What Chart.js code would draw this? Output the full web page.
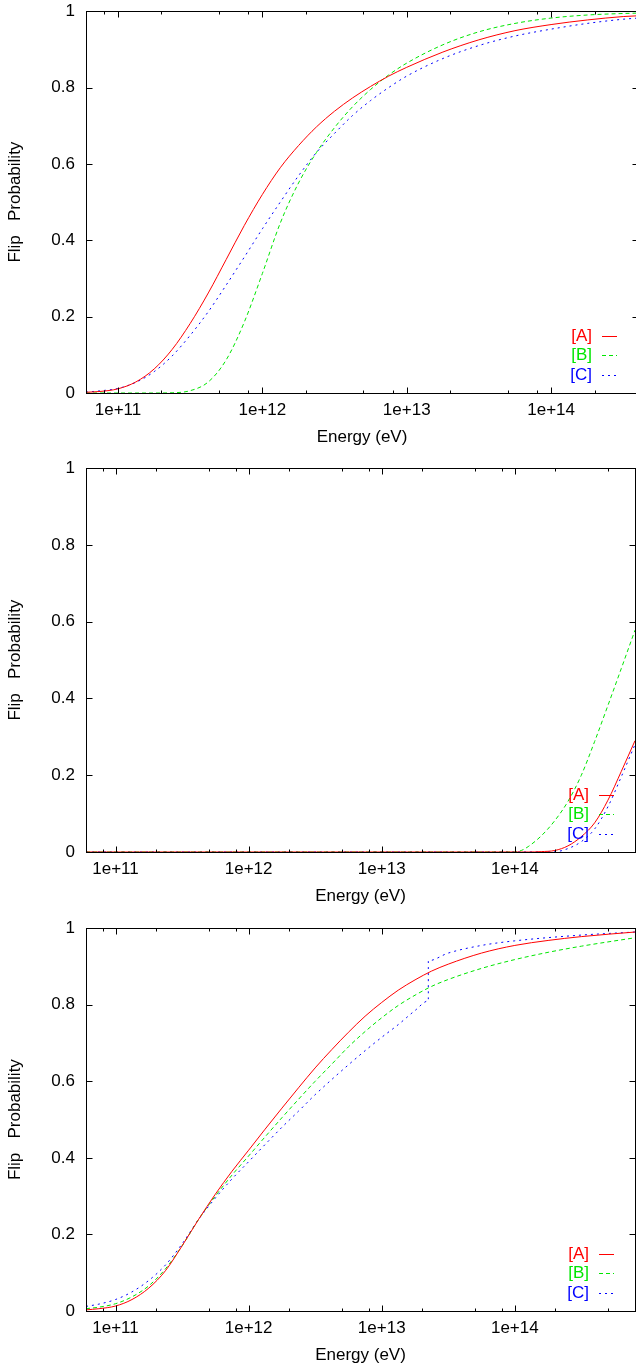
<!DOCTYPE html>
<html>
<head>
<meta charset="utf-8">
<script src="https://cdn.jsdelivr.net/npm/chart.js@4.4.1/dist/chart.umd.min.js"></script>
<style>
  body { margin: 0; background: #fff; width: 636px; height: 1369px; overflow: hidden; position: relative; }
  canvas { position: absolute; left: 0; }
</style>
</head>
<body>
<canvas id="chart1" width="642" height="461" style="top:-10px"></canvas>
<canvas id="chart2" width="642" height="463" style="top:447px"></canvas>
<canvas id="chart3" width="642" height="462" style="top:907px"></canvas>
<script>
// series names
const seriesNames = ["[A]", "[B]", "[C]"];

// panel 1 (energies in eV)
const energyTop = [6e10, 7.5e10, 1e11, 1.33e11, 1.78e11, 2.37e11, 3.16e11, 4.22e11, 5.62e11, 7.5e11,
  1e12, 1.33e12, 1.78e12, 2.37e12, 3.16e12, 4.22e12, 5.62e12, 7.5e12,
  1e13, 1.78e13, 3.16e13, 5.62e13, 1e14, 1.78e14, 3.16e14, 4e14];
const topA = [0.002, 0.004, 0.011, 0.029, 0.063, 0.114, 0.182, 0.262, 0.35, 0.439,
  0.52, 0.59, 0.648, 0.697, 0.738, 0.773, 0.803, 0.83,
  0.853, 0.893, 0.925, 0.949, 0.965, 0.977, 0.986, 0.988];
const topB = [0, 0, 0, 0, 0, 0.0006, 0.006, 0.029, 0.087, 0.186,
  0.313, 0.445, 0.55, 0.63, 0.695, 0.75, 0.795, 0.833,
  0.864, 0.912, 0.946, 0.968, 0.982, 0.99, 0.994, 0.995];
const topC = [0.0024, 0.0056, 0.012, 0.028, 0.056, 0.097, 0.151, 0.213, 0.283, 0.356,
  0.43, 0.5, 0.569, 0.63, 0.68, 0.727, 0.766, 0.8,
  0.83, 0.876, 0.91, 0.935, 0.953, 0.968, 0.979, 0.982];

// panel 2
const energyMid = [6e10, 1e14, 1.12e14, 1.26e14, 1.58e14, 2e14, 2.51e14, 3.16e14, 3.98e14, 5.01e14, 6.31e14, 8e14];
const midA = [0, 0, 0, 0, 0.001, 0.004, 0.016, 0.04, 0.076, 0.135, 0.21, 0.29];
const midB = [0, 0, 0.004, 0.014, 0.042, 0.082, 0.132, 0.2, 0.288, 0.382, 0.478, 0.578];
const midC = [0, 0, 0, 0, 0, 0.0005, 0.009, 0.027, 0.06, 0.118, 0.196, 0.28];

// panel 3
const energyBot = [6e10, 7.5e10, 1e11, 1.33e11, 1.78e11, 2.37e11, 3.16e11, 4.22e11, 5.62e11, 7.5e11,
  1e12, 1.33e12, 1.78e12, 2.37e12, 3.16e12, 4.22e12, 5.62e12, 7.5e12,
  1e13, 1.33e13, 1.78e13, 2.37e13, 3.16e13, 5.62e13, 1e14, 1.78e14, 3.16e14, 8e14];
const botA = [0.003, 0.006, 0.013, 0.03, 0.06, 0.105, 0.17, 0.24, 0.305, 0.365,
  0.42, 0.475, 0.53, 0.583, 0.635, 0.683, 0.728, 0.77,
  0.806, 0.838, 0.865, 0.888, 0.906, 0.935, 0.955, 0.968, 0.978, 0.99];
const botB = [0.006, 0.01, 0.019, 0.037, 0.066, 0.11, 0.17, 0.24, 0.3, 0.355,
  0.405, 0.455, 0.505, 0.553, 0.6, 0.645, 0.69, 0.73,
  0.766, 0.798, 0.825, 0.848, 0.866, 0.895, 0.918, 0.937, 0.953, 0.975];
const energyBotC = [6e10, 7.5e10, 1e11, 1.33e11, 1.78e11, 2.37e11, 3.16e11, 4.22e11, 5.62e11, 7.5e11,
  1e12, 1.33e12, 1.78e12, 2.37e12, 3.16e12, 4.22e12, 5.62e12, 7.5e12,
  1e13, 1.33e13, 1.78e13, 2.24e13, 2.24e13, 3.16e13, 5.62e13, 1e14, 3.16e14, 8e14];
const botC = [0.012, 0.018, 0.03, 0.05, 0.08, 0.12, 0.175, 0.24, 0.295, 0.345,
  0.39, 0.435, 0.48, 0.522, 0.565, 0.605, 0.643, 0.68,
  0.715, 0.748, 0.785, 0.81, 0.915, 0.935, 0.955, 0.967, 0.982, 0.99];

const FONT = "'Liberation Sans', Arial, Helvetica, sans-serif";
const colors = ["#ff0000", "#00e600", "#0000ff"];
const dashes = [[], [4, 3], [2, 4]];

function isDecade(v) {
  const l = Math.log10(v);
  return Math.abs(l - Math.round(l)) < 1e-6;
}

function tickList(min, max) {
  const out = [];
  for (let k = 10; k <= 15; k++) {
    [1, 2, 5, 8].forEach((m) => {
      const v = m * Math.pow(10, k);
      if (v >= min * 0.999 && v <= max * 1.001) out.push({ value: v });
    });
  }
  return out;
}

const framePlugin = {
  id: "frame",
  afterDraw(chart) {
    const { ctx, chartArea: a, scales } = chart;
    const x = scales.x, y = scales.y;
    const L = Math.round(a.left) + 0.5, R = Math.round(a.right) + 0.5;
    const T = Math.round(a.top) + 0.5, B = Math.round(a.bottom) + 0.5;
    ctx.save();
    ctx.strokeStyle = "#000";
    ctx.lineWidth = 1;
    ctx.setLineDash([]);
    ctx.strokeRect(L, T, R - L, B - T);
    ctx.beginPath();
    x.ticks.forEach((t) => {
      const px = Math.round(x.getPixelForValue(t.value)) + 0.5;
      const len = isDecade(t.value) ? 6 : 3;
      ctx.moveTo(px, B); ctx.lineTo(px, B - len);
      ctx.moveTo(px, T); ctx.lineTo(px, T + len);
    });
    y.ticks.forEach((t) => {
      const py = Math.round(y.getPixelForValue(t.value)) + 0.5;
      ctx.moveTo(L, py); ctx.lineTo(L + 6, py);
      ctx.moveTo(R, py); ctx.lineTo(R - 6, py);
    });
    ctx.stroke();

    // key, bottom right
    const offs = [57, 38, 18];
    ctx.font = "17px " + FONT;
    ctx.textAlign = "right";
    ctx.textBaseline = "middle";
    chart.data.datasets.forEach((ds, i) => {
      const ty = Math.round(a.bottom - offs[i]) + 0.5;
      ctx.fillStyle = ds.borderColor;
      ctx.fillText(ds.label, a.right - 46, ty);
      ctx.strokeStyle = ds.borderColor;
      ctx.setLineDash(ds.borderDash);
      ctx.beginPath();
      ctx.moveTo(a.right - 36, ty);
      ctx.lineTo(a.right - 21, ty);
      ctx.stroke();
    });
    ctx.restore();
  },
};

function makeChart(id, xMax, sets) {
  return new Chart(document.getElementById(id), {
    type: "line",
    data: {
      datasets: sets.map((s, i) => ({
        label: seriesNames[i],
        data: s.e.map((e, j) => ({ x: e, y: s.v[j] })),
        borderColor: colors[i],
        borderDash: dashes[i],
        borderWidth: 1,
        pointRadius: 0,
        fill: false,
        cubicInterpolationMode: "monotone",
      })),
    },
    options: {
      responsive: false,
      animation: false,
      events: [],
      layout: { padding: { top: 0, right: 4, left: 0, bottom: 0 } },
      plugins: { legend: { display: false }, tooltip: { enabled: false } },
      scales: {
        x: {
          type: "logarithmic",
          min: 6e10,
          max: xMax,
          afterBuildTicks: (scale) => { scale.ticks = tickList(scale.min, scale.max); },
          afterFit: (scale) => { scale.height = 58; },
          grid: { display: false, drawTicks: false },
          border: { display: false },
          ticks: {
            autoSkip: false,
            maxRotation: 0,
            minRotation: 0,
            padding: 7,
            color: "#000",
            font: { family: FONT, size: 17 },
            callback: (v) => (isDecade(v) ? "1e+" + Math.round(Math.log10(v)) : ""),
          },
          title: {
            display: true,
            text: "Energy (eV)",
            color: "#000",
            font: { family: FONT, size: 17 },
            padding: { top: 0, bottom: 3 },
          },
        },
        y: {
          min: 0,
          max: 1,
          afterFit: (scale) => { scale.width = 86; },
          grid: { display: false, drawTicks: false },
          border: { display: false },
          ticks: {
            stepSize: 0.2,
            padding: 11,
            color: "#000",
            font: { family: FONT, size: 17 },
            callback: (v) => String(+v.toFixed(1)),
          },
          title: {
            display: true,
            text: "Flip   Probability",
            color: "#000",
            font: { family: FONT, size: 17 },
            padding: { top: 5, bottom: 0 },
          },
        },
      },
    },
    plugins: [framePlugin],
  });
}

makeChart("chart1", 4e14, [
  { e: energyTop, v: topA },
  { e: energyTop, v: topB },
  { e: energyTop, v: topC },
]);
makeChart("chart2", 8e14, [
  { e: energyMid, v: midA },
  { e: energyMid, v: midB },
  { e: energyMid, v: midC },
]);
makeChart("chart3", 8e14, [
  { e: energyBot, v: botA },
  { e: energyBot, v: botB },
  { e: energyBotC, v: botC },
]);
</script>
</body>
</html>
